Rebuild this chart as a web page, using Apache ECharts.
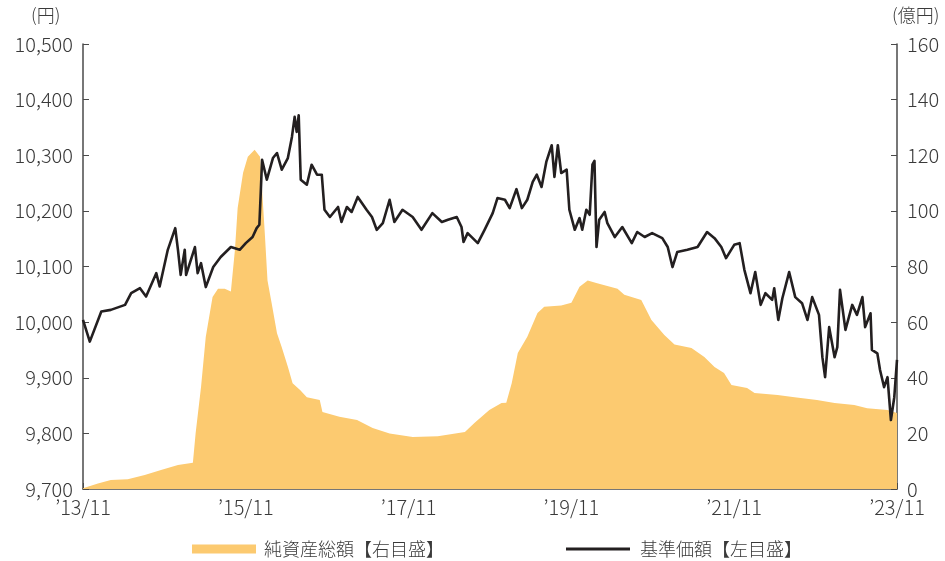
<!DOCTYPE html>
<html>
<head>
<meta charset="utf-8">
<script src="https://cdn.jsdelivr.net/npm/echarts@6/dist/echarts.min.js"></script>
<style>
html, body { margin: 0; padding: 0; background: #fff; }
#chart { width: 945px; height: 561px; }
</style>
</head>
<body>
<div id="chart"></div>
<script>
// time is counted in months from 2013/11
var navMonths = [0, 1.0, 2.7, 4.1, 6.2, 7.1, 8.4, 9.3, 10.8, 11.3, 12.5, 13.6, 14.0, 14.4, 15.0, 15.2,
	16.5, 16.9, 17.4, 18.1, 19.2, 20.3, 21.8, 23.1, 24.0, 25.0, 25.6, 26.0, 26.2, 26.4, 27.1, 28.0,
	28.6, 29.3, 30.2, 30.8, 31.2, 31.5, 31.8, 32.1, 33.0, 33.7, 34.5, 35.2, 35.6, 36.4, 37.6, 38.1,
	38.9, 39.6, 40.5, 41.8, 42.6, 43.3, 44.2, 45.2, 45.9, 47.1, 48.6, 49.9, 51.5, 52.9, 53.8, 55.1,
	55.8, 56.1, 56.7, 58.2, 59.2, 60.4, 61.1, 62.2, 62.9, 63.9, 64.7, 65.5, 66.3, 66.9, 67.6, 68.3,
	69.1, 69.5, 70.0, 70.5, 71.3, 71.7, 72.5, 73.2, 73.6, 74.2, 74.7, 75.1, 75.4, 75.7, 76.1, 76.9,
	77.3, 78.4, 79.5, 80.9, 81.7, 82.8, 83.9, 85.4, 86.2, 86.9, 87.6, 89.1, 90.6, 92.0, 93.1, 94.1,
	94.8, 96.0, 96.8, 97.5, 98.4, 99.1, 99.9, 100.6, 101.6, 101.9, 102.5, 103.1, 104.1, 105.0, 106.0,
	106.8, 107.5, 108.5, 109.0, 109.4, 110.0, 110.8, 111.2, 111.6, 112.4, 113.4, 114.1, 114.9, 115.3,
	116.1, 116.3, 117.1, 117.5, 118.1, 118.6, 119.1, 119.6, 120];
var navValues = [10004, 9965, 10019, 10022, 10031, 10052, 10061, 10046, 10088, 10064, 10130, 10169, 10130, 10085, 10130, 10085,
	10135, 10088, 10106, 10063, 10099, 10117, 10135, 10130, 10142, 10153, 10169, 10175, 10232, 10292, 10256, 10295,
	10304, 10274, 10295, 10333, 10369, 10342, 10372, 10256, 10247, 10283, 10265, 10265, 10202, 10189, 10207, 10180,
	10207, 10198, 10225, 10202, 10189, 10166, 10178, 10220, 10180, 10202, 10189, 10166, 10196, 10180, 10184, 10189,
	10171, 10144, 10160, 10142, 10166, 10196, 10223, 10220, 10205, 10239, 10205, 10220, 10252, 10265, 10243, 10288,
	10318, 10261, 10318, 10268, 10274, 10202, 10166, 10187, 10166, 10202, 10193, 10283, 10290, 10135, 10184, 10198,
	10178, 10153, 10171, 10142, 10162, 10153, 10160, 10151, 10135, 10099, 10126, 10130, 10135, 10162, 10151, 10135,
	10115, 10139, 10142, 10094, 10052, 10090, 10031, 10052, 10040, 10061, 10004, 10043, 10090, 10045, 10034,
	10004, 10045, 10013, 9937, 9901, 9991, 9937, 9955, 10058, 9986, 10031, 10013, 10045, 9991,
	10016, 9950, 9944, 9914, 9883, 9901, 9824, 9865, 9932];

var assetMonths = [0, 2.2, 4.1, 6.6, 9.1, 11.5, 14.0, 16.2, 16.6, 17.4, 18.1, 19.1, 19.9, 20.9, 21.8, 22.4,
	22.8, 23.6, 24.3, 25.3, 26.1, 26.8, 27.2, 27.8, 28.6, 29.3, 30.2, 30.9, 32.0, 33.0, 34.9, 35.3,
	37.8, 40.4, 42.7, 45.2, 48.6, 52.3, 56.3, 57.7, 59.9, 61.7, 62.4, 63.2, 64.1, 65.5, 67.0, 68.0,
	70.5, 72.0, 73.2, 74.4, 75.8, 78.8, 79.8, 82.3, 83.8, 85.7, 87.2, 89.7, 91.6, 93.1, 94.5, 95.6,
	97.9, 99.0, 102.4, 104.9, 108.2, 110.8, 113.7, 115.6, 118.6, 120];
var assetValues = [0.3, 2, 3.2, 3.5, 5, 6.8, 8.6, 9.4, 20, 36.7, 54.7, 69, 72, 72, 71, 86,
	101, 113.7, 119.5, 122, 119.5, 92, 75, 67, 56, 51, 44, 38, 35.6, 33, 32, 27.7,
	26, 24.8, 21.9, 20, 18.7, 19, 20.5, 23.7, 28.4, 30.9, 31, 38, 48.9, 54.7, 63.3, 65.5,
	66, 67, 72.7, 75, 74, 72, 69.8, 68, 60.8, 55.4, 52, 50.7, 47.5, 43.9, 41.7, 37.4,
	36.3, 34.5, 33.8, 33, 32, 30.9, 30.2, 29, 28.4, 27.3];

var leftMin = 9700, leftMax = 10500, leftStep = 100;
var rightMin = 0, rightMax = 160, rightStep = 20;
var assetName = '純資産総額【右目盛】';
var navName = '基準価額【左目盛】';

function pairs(xs, ys) {
	var out = [];
	for (var i = 0; i < xs.length; i++) out.push([xs[i], ys[i]]);
	return out;
}

var font = '"Noto Sans CJK JP", "Noto Sans", sans-serif';
var textColor = '#3a3a3a';
var axisColor = '#4a4a4a';

var chart = echarts.init(document.getElementById('chart'));
chart.setOption({
	animation: false,
	textStyle: { fontFamily: font },
	grid: { left: 83, right: 48, top: 44, bottom: 72 },
	legend: [{
		left: 187, top: 535,
		itemWidth: 64, itemHeight: 9,
		textStyle: { fontSize: 18, color: textColor, fontFamily: font, fontWeight: 300, padding: [0, 0, 0, 3] },
		data: [{ name: assetName, icon: 'rect' }]
	}, {
		left: 561, top: 535,
		itemWidth: 64, itemHeight: 3,
		textStyle: { fontSize: 18, color: textColor, fontFamily: font, fontWeight: 300, padding: [0, 0, 0, 5] },
		data: [{ name: navName, icon: 'rect' }]
	}],
	graphic: [
		{ type: 'text', left: 31, top: 6, style: { text: '(円)', fontSize: 18, fontWeight: 300, fill: textColor, fontFamily: font } },
		{ type: 'text', left: 892, top: 6, style: { text: '(億円)', fontSize: 18, fontWeight: 300, fill: textColor, fontFamily: font } }
	],
	xAxis: {
		type: 'value', min: 0, max: 120, interval: 24,
		axisLine: { lineStyle: { color: axisColor, width: 1.5 } },
		axisTick: { inside: true, length: 6, lineStyle: { color: axisColor } },
		splitLine: { show: false },
		axisLabel: {
			fontSize: 20, fontWeight: 300, color: textColor, margin: 8,
			formatter: function (v) { return '\u2019' + (13 + v / 12) + '/11'; }
		}
	},
	yAxis: [{
		type: 'value', min: leftMin, max: leftMax, interval: leftStep, position: 'left',
		axisLine: { show: true, lineStyle: { color: axisColor, width: 1.5 } },
		axisTick: { show: true, inside: true, length: 6, lineStyle: { color: axisColor } },
		splitLine: { show: false },
		axisLabel: {
			fontSize: 20, fontWeight: 300, color: textColor, margin: 10,
			formatter: function (v) { return v.toLocaleString('en-US'); }
		}
	}, {
		type: 'value', min: rightMin, max: rightMax, interval: rightStep, position: 'right',
		axisLine: { show: true, lineStyle: { color: axisColor, width: 1.5 } },
		axisTick: { show: true, inside: true, length: 6, lineStyle: { color: axisColor } },
		splitLine: { show: false },
		axisLabel: { fontSize: 20, fontWeight: 300, color: textColor, margin: 10 }
	}],
	series: [{
		name: assetName,
		type: 'line',
		yAxisIndex: 1,
		symbol: 'none',
		color: '#FCCA70',
		lineStyle: { width: 0 },
		areaStyle: { color: '#FCCA70', opacity: 1 },
		data: pairs(assetMonths, assetValues),
		z: 1
	}, {
		name: navName,
		type: 'line',
		yAxisIndex: 0,
		symbol: 'none',
		color: '#231f20',
		lineStyle: { width: 2.6, color: '#231f20', join: 'round' },
		data: pairs(navMonths, navValues),
		z: 3
	}]
});
</script>
</body>
</html>
